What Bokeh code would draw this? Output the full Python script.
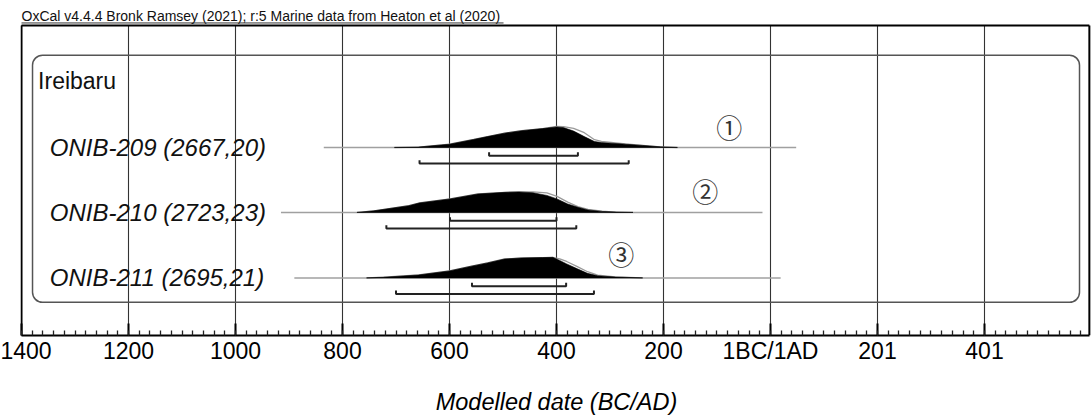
from bokeh.plotting import figure
from bokeh.models import Range1d, FixedTicker
from bokeh.core.properties import value
from bokeh.embed import file_html
from bokeh.resources import INLINE

# ---------------- data ----------------
TITLE = "OxCal v4.4.4 Bronk Ramsey (2021); r:5 Marine data from Heaton et al (2020)"
GROUP = "Ireibaru"
SAMPLES = ["ONIB-209 (2667,20)", "ONIB-210 (2723,23)", "ONIB-211 (2695,21)"]
MARKERS = ["①", "②", "③"]
TICKS = [-1400, -1200, -1000, -800, -600, -400, -200, 0, 200, 400]
TICK_LABELS = ["1400", "1200", "1000", "800", "600", "400", "200", "1BC/1AD", "201", "401"]
AXIS_TITLE = "Modelled date (BC/AD)"

# posterior (black) and prior/likelihood (grey outline), relative probability
years_209 = [-703, -658, -600, -555, -529, -497, -465, -426, -400, -387, -368, -348, -329, -316, -271, -239, -206, -174]
post_209 = [0, 0.02, 0.16, 0.39, 0.53, 0.70, 0.82, 0.92, 1.00, 0.97, 0.80, 0.53, 0.29, 0.24, 0.16, 0.10, 0.03, 0]
prior_209 = [0, 0.02, 0.16, 0.39, 0.53, 0.70, 0.82, 0.92, 1.03, 1.02, 0.93, 0.72, 0.38, 0.30, 0.17, 0.10, 0.03, 0]

years_210 = [-773, -741, -676, -657, -599, -573, -547, -496, -470, -444, -418, -399, -379, -360, -341, -315, -289, -257]
post_210 = [0, 0.08, 0.33, 0.46, 0.66, 0.78, 0.90, 0.98, 1.00, 0.96, 0.83, 0.66, 0.41, 0.25, 0.12, 0.05, 0.02, 0]
prior_210 = [0, 0.08, 0.33, 0.46, 0.66, 0.78, 0.90, 0.98, 1.00, 1.00, 0.95, 0.78, 0.50, 0.28, 0.15, 0.06, 0.02, 0]

years_211 = [-755, -723, -658, -600, -561, -529, -497, -465, -426, -407, -394, -381, -361, -342, -323, -290, -239]
post_211 = [0, 0.03, 0.14, 0.34, 0.56, 0.73, 0.92, 0.97, 0.99, 1.00, 0.85, 0.68, 0.44, 0.22, 0.10, 0.04, 0]
prior_211 = [0, 0.03, 0.14, 0.34, 0.56, 0.73, 0.92, 0.97, 0.99, 1.00, 0.93, 0.80, 0.55, 0.30, 0.13, 0.05, 0]

YEARS = [years_209, years_210, years_211]
POST = [post_209, post_210, post_211]
PRIOR = [prior_209, prior_210, prior_211]

RANGE_68 = [(-526, -360), (-599, -400), (-558, -382)]
RANGE_95 = [(-656, -265), (-718, -363), (-700, -330)]
LINE_EXTENT = [(-835, 48), (-915, -15), (-890, 19)]

# ---------------- layout (screen-pixel style y, top = 0) ----------------
W, H = 1092, 417
FRAME_BOTTOM = 343
X0, X1 = -1401.87, 601.87
BORDER_L, BORDER_R, BORDER_T = -1400, 596, 25.5
ROW_BASE = [150.5, 217, 284]
PEAK = 21
FONT = "Liberation Sans"

p = figure(width=W, height=H, output_backend="svg", toolbar_location=None,
           x_range=Range1d(X0, X1), y_range=Range1d(FRAME_BOTTOM, 0),
           y_axis_location=None, min_border_left=20, min_border_right=0,
           min_border_top=0, min_border_bottom=H - FRAME_BOTTOM)
p.xgrid.visible = False
p.ygrid.visible = False
p.outline_line_color = None
p.background_fill_color = "white"
p.border_fill_color = "white"

# vertical grid lines
p.segment(x0=TICKS, x1=TICKS, y0=[BORDER_T] * len(TICKS), y1=[FRAME_BOTTOM] * len(TICKS),
          line_color="#333333", line_width=1.1)

# frame border
p.segment(x0=[BORDER_L, BORDER_L, BORDER_R], x1=[BORDER_R, BORDER_L, BORDER_R],
          y0=[BORDER_T, BORDER_T, BORDER_T], y1=[BORDER_T, FRAME_BOTTOM, FRAME_BOTTOM],
          line_color="black", line_width=2)

# title with underline
p.text(x=[BORDER_L], y=[15.5], text=[TITLE], text_font=value(FONT), text_font_size="14px",
       text_baseline="middle", text_align="left", text_color="#111")
p.segment(x0=[BORDER_L], x1=[-499], y0=[23], y1=[23], line_color="#333", line_width=1)

# rounded group box
p.quad(left=[-1379.4], right=[577.6], top=[56], bottom=[309], fill_alpha=0,
       line_color="#555", line_width=1.5, border_radius=10)

p.text(x=[-1369], y=[82], text=[GROUP], text_font=value(FONT), text_font_size="23px",
       text_baseline="middle", text_align="left", text_color="#111")

for i in range(3):
    b = ROW_BASE[i]
    x0, x1 = LINE_EXTENT[i]
    p.line(x=[x0, x1], y=[b, b], line_color="#a0a0a0", line_width=1.5)
    pr_y = [b - v * PEAK for v in PRIOR[i]]
    p.line(x=YEARS[i], y=pr_y, line_color="#9a9a9a", line_width=1.3)
    po_y = [b - v * PEAK for v in POST[i]]
    p.patch(x=YEARS[i] + [YEARS[i][-1], YEARS[i][0]], y=po_y + [b, b],
            fill_color="black", line_color="black", line_width=0.6)
    # ranges
    for (lo, hi), off in ((RANGE_68[i], 8.5), (RANGE_95[i], 16.5)):
        yy = b + off
        p.multi_line(xs=[[lo, lo, hi, hi]], ys=[[yy - 3.5, yy, yy, yy - 3.5]],
                     line_color="#222", line_width=2)
    p.text(x=[-1347], y=[b], text=[SAMPLES[i]], text_font=value(FONT), text_font_size="24px",
           text_font_style="italic", text_baseline="middle", text_align="left", text_color="#111")

# circled markers
p.text(x=[-77, -122, -279], y=[129, 195, 259], text=MARKERS,
       text_font=value("Noto Sans CJK JP"), text_font_size="26px",
       text_baseline="middle", text_align="center", text_color="#333")

# x axis
ax = p.xaxis[0]
ax.ticker = FixedTicker(ticks=TICKS, minor_ticks=list(range(-1400, 597, 20)))
ax.major_label_overrides = {t: l for t, l in zip(TICKS, TICK_LABELS)}
ax.bounds = (BORDER_L, BORDER_R)
ax.axis_line_color = "black"
ax.axis_line_width = 2
ax.major_tick_in = 12
ax.major_tick_out = 0
ax.major_tick_line_width = 2
ax.major_tick_line_color = "black"
ax.minor_tick_in = 5
ax.minor_tick_out = 0
ax.minor_tick_line_width = 1.3
ax.minor_tick_line_color = "#222"
ax.major_label_standoff = 2
ax.major_label_text_font = FONT
ax.major_label_text_font_size = "23px"
ax.major_label_text_color = "black"
ax.axis_label = AXIS_TITLE
ax.axis_label_text_font = FONT
ax.axis_label_text_font_size = "23.5px"
ax.axis_label_text_font_style = "italic"
ax.axis_label_text_color = "black"
ax.axis_label_standoff = 22

open("out.html", "w").write(file_html(p, INLINE))
